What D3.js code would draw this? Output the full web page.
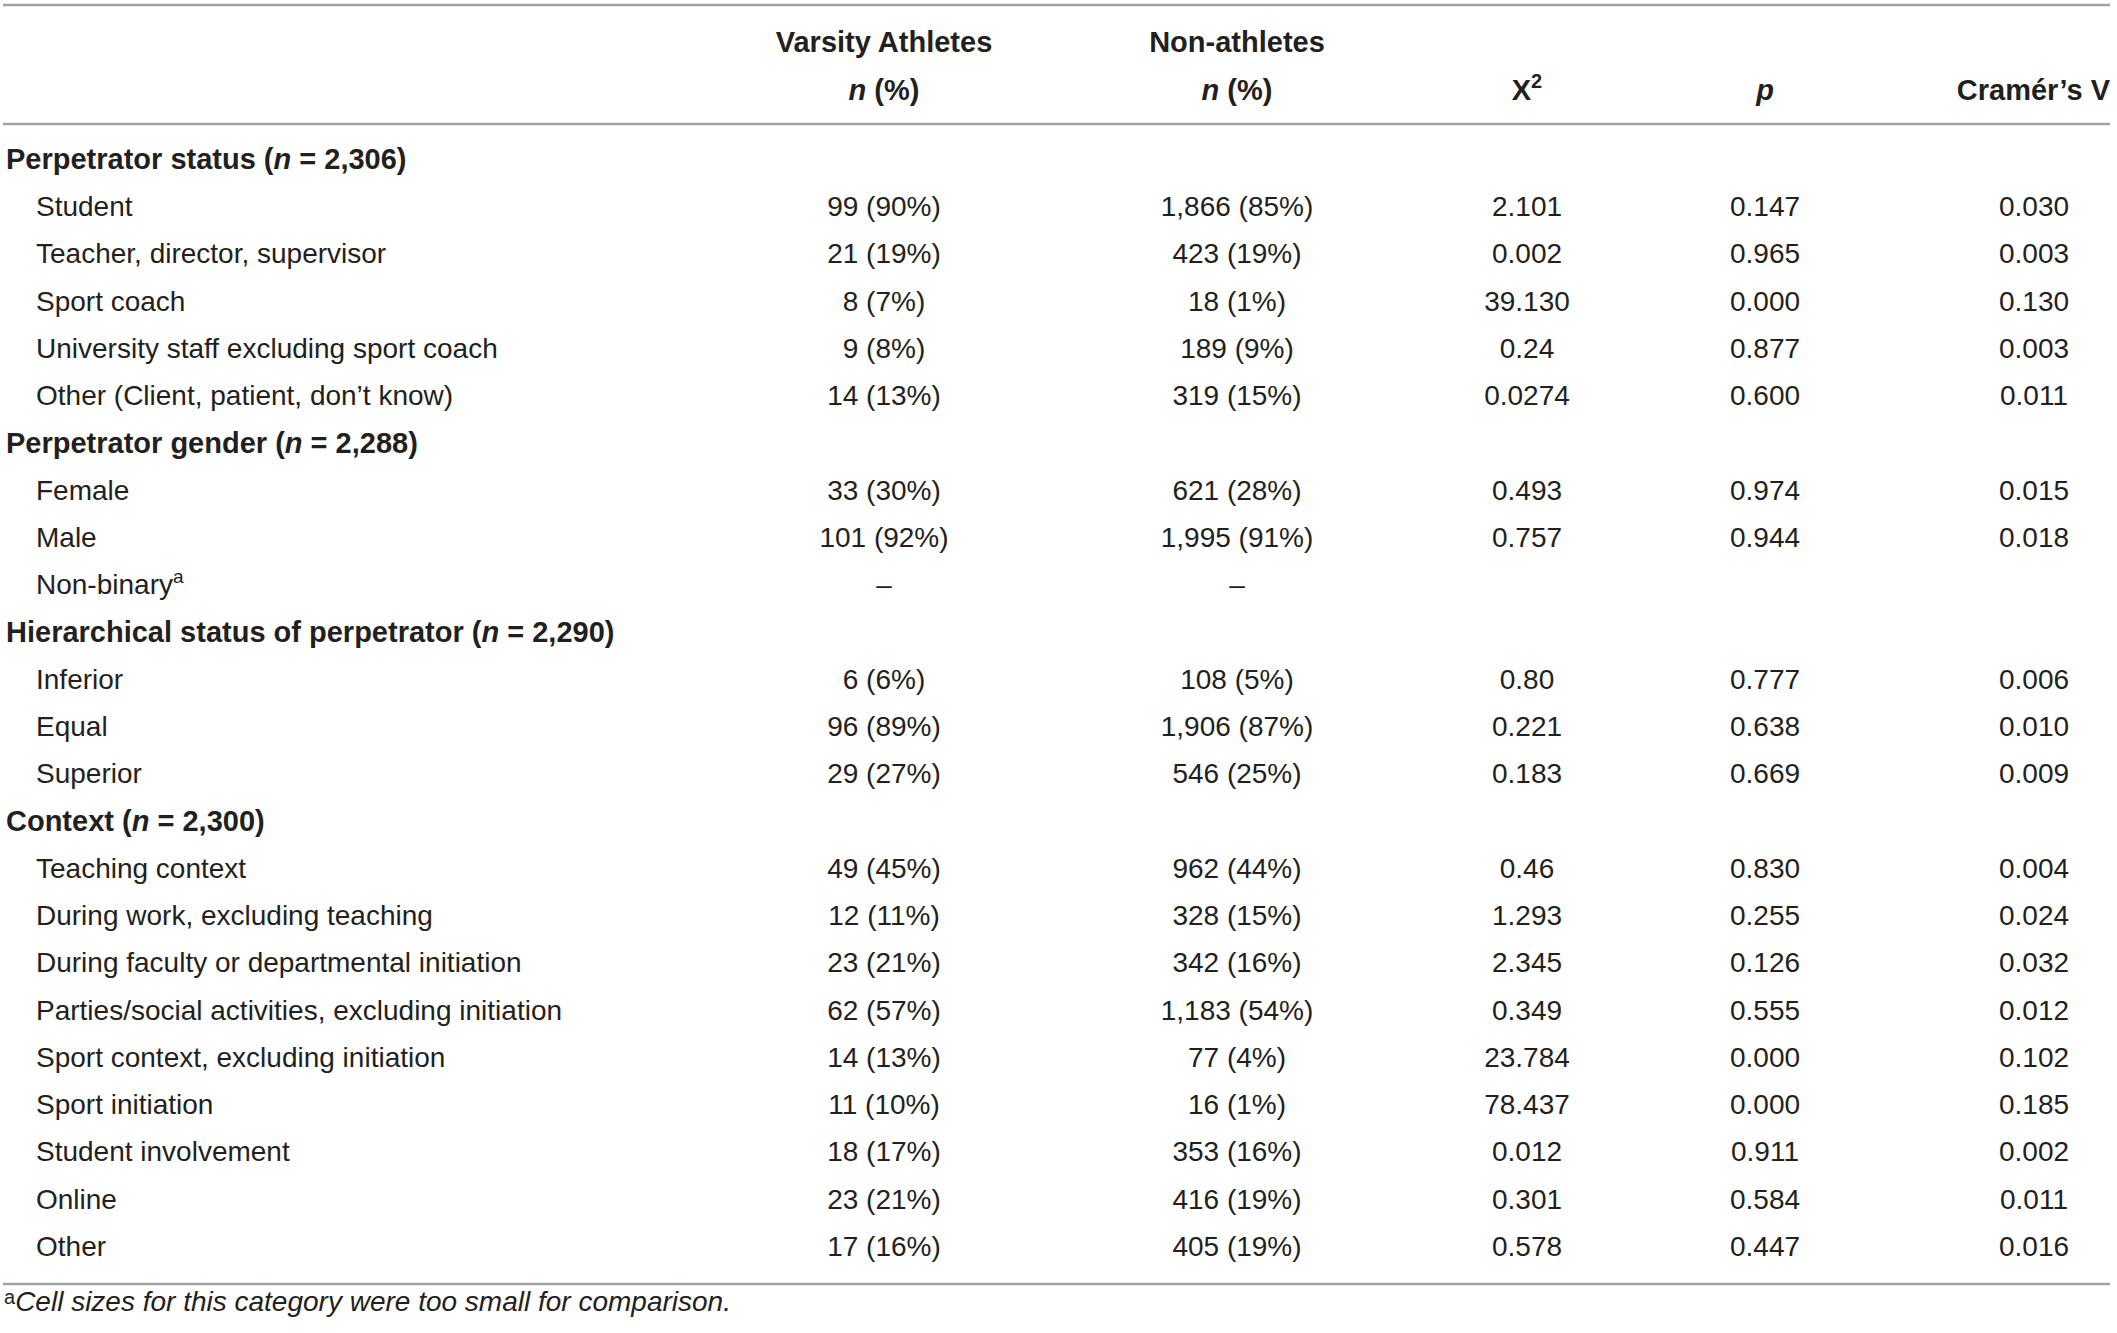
<!DOCTYPE html>
<html lang="en">
<head>
<meta charset="UTF-8">
<title>Perpetrator characteristics table</title>
<style>
  body { margin: 0; background: #fff; }
  svg { display: block; }
  text { font-family: 'Liberation Sans', Arial, sans-serif; fill: #231f20; }
  .cell { font-size: 28px; }
  .group { font-size: 29px; font-weight: bold; }
  .head { font-size: 29px; font-weight: bold; }
  .foot { font-size: 28px; font-style: italic; }
  .rule { stroke: #a3a3a3; stroke-width: 2.5; }
</style>
</head>
<body>
<svg id="tbl"></svg>
<script src="https://d3js.org/d3.v7.min.js"></script>
<script>
  // table content, row by row (group rows have null values)
  const rowLabels = [
    "Perpetrator status", "Student", "Teacher, director, supervisor", "Sport coach",
    "University staff excluding sport coach", "Other (Client, patient, don\u2019t know)",
    "Perpetrator gender", "Female", "Male", "Non-binary",
    "Hierarchical status of perpetrator", "Inferior", "Equal", "Superior",
    "Context", "Teaching context", "During work, excluding teaching",
    "During faculty or departmental initiation", "Parties/social activities, excluding initiation",
    "Sport context, excluding initiation", "Sport initiation", "Student involvement", "Online", "Other"
  ];
  const groupN = [ "2,306", null, null, null, null, null,
    "2,288", null, null, null,
    "2,290", null, null, null,
    "2,300", null, null, null, null, null, null, null, null, null ];
  const varsity = [ null, "99 (90%)", "21 (19%)", "8 (7%)", "9 (8%)", "14 (13%)",
    null, "33 (30%)", "101 (92%)", "\u2013",
    null, "6 (6%)", "96 (89%)", "29 (27%)",
    null, "49 (45%)", "12 (11%)", "23 (21%)", "62 (57%)", "14 (13%)", "11 (10%)", "18 (17%)", "23 (21%)", "17 (16%)" ];
  const nonAthletes = [ null, "1,866 (85%)", "423 (19%)", "18 (1%)", "189 (9%)", "319 (15%)",
    null, "621 (28%)", "1,995 (91%)", "\u2013",
    null, "108 (5%)", "1,906 (87%)", "546 (25%)",
    null, "962 (44%)", "328 (15%)", "342 (16%)", "1,183 (54%)", "77 (4%)", "16 (1%)", "353 (16%)", "416 (19%)", "405 (19%)" ];
  const chi2 = [ null, "2.101", "0.002", "39.130", "0.24", "0.0274",
    null, "0.493", "0.757", null,
    null, "0.80", "0.221", "0.183",
    null, "0.46", "1.293", "2.345", "0.349", "23.784", "78.437", "0.012", "0.301", "0.578" ];
  const pValues = [ null, "0.147", "0.965", "0.000", "0.877", "0.600",
    null, "0.974", "0.944", null,
    null, "0.777", "0.638", "0.669",
    null, "0.830", "0.255", "0.126", "0.555", "0.000", "0.000", "0.911", "0.584", "0.447" ];
  const cramerV = [ null, "0.030", "0.003", "0.130", "0.003", "0.011",
    null, "0.015", "0.018", null,
    null, "0.006", "0.010", "0.009",
    null, "0.004", "0.024", "0.032", "0.012", "0.102", "0.185", "0.002", "0.011", "0.016" ];

  const columnKeys = ["varsity", "non", "chi2", "p", "v"];
  const columnValues = { varsity: varsity, non: nonAthletes, chi2: chi2, p: pValues, v: cramerV };

  const W = 2117, H = 1333;
  const svg = d3.select("#tbl").attr("width", W).attr("height", H);

  const y = d3.scalePoint()
    .domain(d3.range(rowLabels.length))
    .range([159, 1246]);

  const x = d3.scaleOrdinal()
    .domain(columnKeys)
    .range([884, 1237, 1527, 1765, 2034]);

  // horizontal rules
  [5, 124, 1284].forEach(ry => {
    svg.append("line").attr("class", "rule")
      .attr("x1", 3).attr("x2", 2110).attr("y1", ry).attr("y2", ry);
  });

  // column headers
  const h1 = 42, h2 = 90;
  svg.append("text").attr("class", "head").attr("x", x("varsity")).attr("y", h1)
    .attr("text-anchor", "middle").attr("dy", "0.35em").text("Varsity Athletes");
  svg.append("text").attr("class", "head").attr("x", x("non")).attr("y", h1)
    .attr("text-anchor", "middle").attr("dy", "0.35em").text("Non-athletes");

  ["varsity", "non"].forEach(k => {
    const t = svg.append("text").attr("class", "head").attr("x", x(k)).attr("y", h2)
      .attr("text-anchor", "middle").attr("dy", "0.35em");
    t.append("tspan").attr("font-style", "italic").text("n");
    t.append("tspan").text(" (%)");
  });

  const xh = svg.append("text").attr("class", "head").attr("x", x("chi2")).attr("y", h2)
    .attr("text-anchor", "middle").attr("dy", "0.35em");
  xh.append("tspan").text("X");
  xh.append("tspan").attr("font-size", "20px").attr("dy", "-0.6em").text("2");

  svg.append("text").attr("class", "head").attr("x", x("p")).attr("y", h2)
    .attr("text-anchor", "middle").attr("dy", "0.35em").attr("font-style", "italic").text("p");
  svg.append("text").attr("class", "head").attr("x", 2110).attr("y", h2)
    .attr("text-anchor", "end").attr("dy", "0.35em").text("Cram\u00e9r\u2019s V");

  // rows: label then the five value columns
  const rows = svg.append("g").selectAll("g")
    .data(rowLabels.map((label, i) => ({ i, label, n: groupN[i] })))
    .join("g")
    .attr("transform", d => `translate(0,${y(d.i)})`);

  rows.each(function(d) {
    const g = d3.select(this);
    const isGroup = varsity[d.i] === null;
    const t = g.append("text")
      .attr("class", isGroup ? "group" : "cell")
      .attr("x", isGroup ? 6 : 36)
      .attr("dy", "0.35em");
    t.append("tspan").text(d.label);
    if (isGroup) {
      t.append("tspan").text(" (");
      t.append("tspan").attr("font-style", "italic").text("n");
      t.append("tspan").text(` = ${d.n})`);
    }
    if (d.label === "Non-binary") {
      t.append("tspan").attr("font-size", "19px").attr("dy", "-0.6em").text("a");
    }
    columnKeys.forEach(k => {
      const v = columnValues[k][d.i];
      if (v === null) return;
      g.append("text").attr("class", "cell")
        .attr("x", x(k)).attr("dy", "0.35em")
        .attr("text-anchor", "middle").text(v);
    });
  });

  // footnote
  const f = svg.append("text").attr("class", "foot").attr("x", 4).attr("y", 1309).attr("dy", "0.35em");
  f.append("tspan").attr("font-style", "normal").attr("font-size", "20px").attr("dy", "-0.25em").text("a");
  f.append("tspan").attr("dy", "0.25em").text("Cell sizes for this category were too small for comparison.");
</script>
</body>
</html>
